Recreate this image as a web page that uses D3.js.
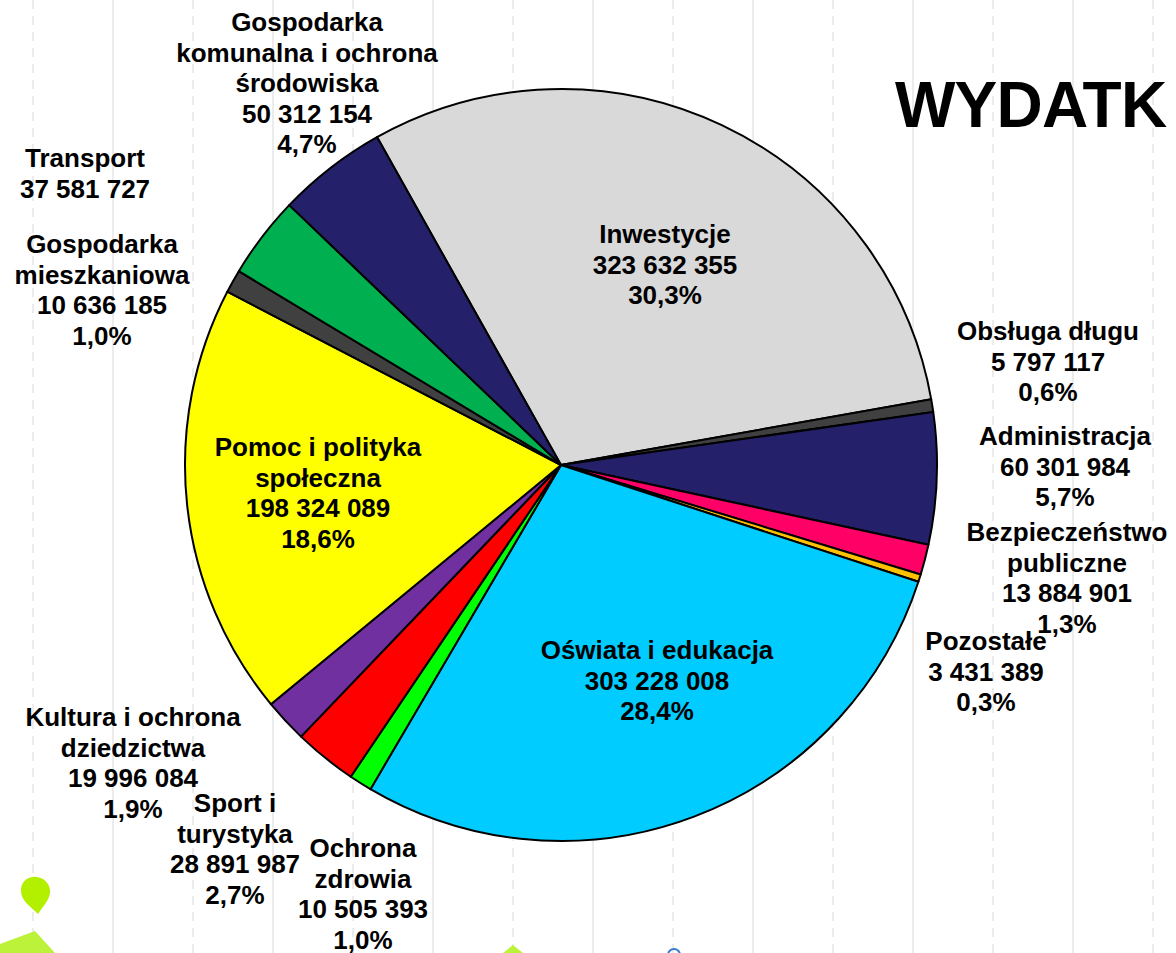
<!DOCTYPE html>
<html>
<head>
<meta charset="utf-8">
<script src="https://cdn.jsdelivr.net/npm/d3@7"></script>
<style>
	html, body { margin: 0; padding: 0; background: #fff; overflow: hidden; }
	text { font-family: "Liberation Sans", Arial, sans-serif; font-weight: bold; fill: #000; }
</style>
</head>
<body>
<script>
//chart data, clockwise from the top slice
var categories = [
	"Inwestycje", "Obsługa długu", "Administracja", "Bezpieczeństwo publiczne",
	"Pozostałe", "Oświata i edukacja", "Ochrona zdrowia", "Sport i turystyka",
	"Kultura i ochrona dziedzictwa", "Pomoc i polityka społeczna",
	"Gospodarka mieszkaniowa", "Transport", "Gospodarka komunalna i ochrona środowiska"
];
var values = [
	323632355, 5797117, 60301984, 13884901, 3431389, 303228008, 10505393,
	28891987, 19996084, 198324089, 10636185, 37581727, 50312154
];
var percents = ["30,3%", "0,6%", "5,7%", "1,3%", "0,3%", "28,4%", "1,0%",
	"2,7%", "1,9%", "18,6%", "1,0%", null, "4,7%"];
var colors = ["#d9d9d9", "#404040", "#24216a", "#ff0066", "#ffc000", "#00ccff", "#00ff00",
	"#ff0000", "#7030a0", "#ffff00", "#404040", "#00b050", "#24216a"];

//label lines as they are broken in the picture
var labelLines = [
	["Inwestycje"], ["Obsługa długu"], ["Administracja"], ["Bezpieczeństwo", "publiczne"],
	["Pozostałe"], ["Oświata i edukacja"], ["Ochrona", "zdrowia"], ["Sport i", "turystyka"],
	["Kultura i ochrona", "dziedzictwa"], ["Pomoc i polityka", "społeczna"],
	["Gospodarka", "mieszkaniowa"], ["Transport"], ["Gospodarka", "komunalna i ochrona", "środowiska"]
];
//label anchor: centre x, first baseline y
var labelPos = [
	[665, 243], [1048, 340], [1065, 445], [1067, 541], [986, 650], [657, 659], [363, 857],
	[235, 812], [133, 726], [318, 456], [102, 253], [85, 167], [307, 31]
];

var width = 1176,
	height = 953,
	cx = 561, cy = 465,
	radius = 376;
var lineH = 30.5;
var startAngle = -29.3 * Math.PI / 180;

var svg = d3.select("body").append("svg")
	.attr("width", width)
	.attr("height", height);

//background slide lines
var xs = d3.range(33, width, 80);
svg.selectAll(".grid")
	.data(xs)
	.enter().append("line")
	.attr("x1", function(d){ return d; })
	.attr("x2", function(d){ return d; })
	.attr("y1", 0).attr("y2", height)
	.attr("stroke", "#ececec")
	.attr("stroke-width", 2)
	.attr("stroke-dasharray", function(d, i){ return i % 2 == 0 ? "9,7" : null; });

//decorations bottom left
svg.append("path")
	.attr("d", "M38,914 C30,906 20,900 21,889 C22,879 31,876 37,877 C45,878 51,885 50,893 C49,901 43,906 38,914 Z")
	.attr("fill", "#b3f000");
svg.append("path")
	.attr("d", "M0,944 L35,931 L55,953 L0,953 Z")
	.attr("fill", "#bdf23a");
svg.append("path")
	.attr("d", "M503,953 L513,945 L523,953 Z")
	.attr("fill", "#bdf23a");
svg.append("circle")
	.attr("cx", 674).attr("cy", 955).attr("r", 6)
	.attr("fill", "none").attr("stroke", "#3a7bd5").attr("stroke-width", 2);

var pie = d3.pie()
	.sort(null)
	.value(function(d){ return d; })
	.startAngle(startAngle)
	.endAngle(startAngle + 2 * Math.PI);

var arc = d3.arc().innerRadius(0).outerRadius(radius);

var g = svg.append("g").attr("transform", "translate(" + cx + "," + cy + ")");
g.selectAll(".slice")
	.data(pie(values))
	.enter().append("path")
	.attr("class", "slice")
	.attr("d", arc)
	.attr("fill", function(d, i){ return colors[i]; })
	.attr("stroke", "#000")
	.attr("stroke-width", 2)
	.attr("stroke-linejoin", "round");

var fmt = function(v){ return d3.format(",")(v).replace(/,/g, " "); };

var labels = svg.selectAll(".label")
	.data(categories)
	.enter().append("text")
	.attr("class", "label")
	.attr("text-anchor", "middle")
	.style("font-size", "26px");

labels.each(function(d, i){
	var lines = labelLines[i].concat([fmt(values[i])]);
	if (percents[i]) lines.push(percents[i]);
	var t = d3.select(this);
	lines.forEach(function(s, k){
		t.append("tspan")
			.attr("x", labelPos[i][0])
			.attr("y", labelPos[i][1] + k * lineH)
			.text(s);
	});
});

//title, only the visible part of the slide heading
svg.append("text")
	.attr("x", 895)
	.attr("y", 127)
	.style("font-size", "64px")
	.style("letter-spacing", "-0.8px")
	.text("WYDATK");
</script>
</body>
</html>
